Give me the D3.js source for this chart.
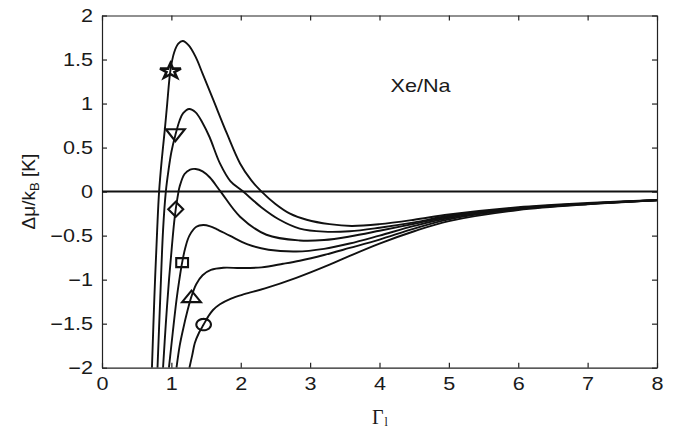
<!DOCTYPE html>
<html>
<head>
<meta charset="utf-8">
<script src="https://cdn.jsdelivr.net/npm/d3@7"></script>
<style>
    body { margin: 0; background: #fff; }
    .tick text { font-family: "Liberation Sans", Arial, sans-serif; font-size: 18px; fill: #1a1a1a; }
    .domain, .tick line { stroke: #222; stroke-width: 1.2; }
</style>
</head>
<body>
<div id="chart"></div>
<script>
// values (x = Gamma_l, y = delta mu / kB in K)
var xTicks = [0, 1, 2, 3, 4, 5, 6, 7, 8];
var yTicks = [-2, -1.5, -1, -0.5, 0, 0.5, 1, 1.5, 2];
var yTickLabels = ["\u22122", "\u22121.5", "\u22121", "\u22120.5", "0", "0.5", "1", "1.5", "2"];

var starX = [0.72, 0.755, 0.795, 0.823, 0.86, 0.905, 0.94, 0.987, 1.04, 1.1, 1.165, 1.25, 1.35, 1.45, 1.6, 1.8, 1.99, 2.15, 2.3, 2.5, 2.71, 2.95, 3.28, 3.6, 4, 4.5, 5, 6, 7, 8];
var starY = [-2, -1.2, -0.44, 0, 0.35, 0.7, 1.0, 1.38, 1.58, 1.68, 1.71, 1.66, 1.53, 1.34, 1.05, 0.66, 0.32, 0.13, 0, -0.14, -0.25, -0.32, -0.37, -0.39, -0.37, -0.32, -0.26, -0.178, -0.13, -0.095];

var triDownX = [0.8, 0.84, 0.88, 0.92, 0.96, 1.0, 1.057, 1.12, 1.17, 1.256, 1.35, 1.45, 1.55, 1.7, 1.85, 2.035, 2.3, 2.56, 2.85, 3.2, 3.57, 4, 4.5, 5, 6, 7, 8];
var triDownY = [-2, -1.2, -0.44, 0, 0.25, 0.45, 0.64, 0.81, 0.89, 0.938, 0.9, 0.78, 0.62, 0.32, 0.12, 0, -0.18, -0.32, -0.42, -0.455, -0.45, -0.41, -0.35, -0.275, -0.185, -0.135, -0.097];

var diamondX = [0.88, 0.92, 0.966, 1.01, 1.04, 1.063, 1.09, 1.12, 1.19, 1.27, 1.35, 1.45, 1.555, 1.71, 1.99, 2.37, 2.85, 3.2, 3.57, 4, 4.5, 5, 6, 7, 8];
var diamondY = [-2, -1.5, -1.0, -0.6, -0.35, -0.2, -0.06, 0.06, 0.2, 0.25, 0.257, 0.23, 0.16, 0, -0.285, -0.49, -0.555, -0.55, -0.51, -0.445, -0.365, -0.285, -0.19, -0.137, -0.097];

var squareX = [0.965, 1.02, 1.074, 1.115, 1.155, 1.2, 1.26, 1.36, 1.46, 1.56, 1.65, 1.84, 2.1, 2.4, 2.8, 3.2, 3.57, 4, 4.5, 5, 6, 7, 8];
var squareY = [-2, -1.6, -1.23, -1.0, -0.807, -0.64, -0.5, -0.4, -0.38, -0.395, -0.425, -0.5, -0.6, -0.66, -0.68, -0.65, -0.59, -0.5, -0.39, -0.3, -0.195, -0.139, -0.098];

var triUpX = [1.074, 1.12, 1.17, 1.23, 1.29, 1.36, 1.45, 1.57, 1.75, 2.0, 2.3, 2.61, 2.85, 3.2, 3.57, 4, 4.5, 5, 6, 7, 8];
var triUpY = [-2, -1.75, -1.56, -1.36, -1.19, -1.05, -0.95, -0.89, -0.865, -0.868, -0.86, -0.82, -0.785, -0.72, -0.64, -0.545, -0.42, -0.315, -0.2, -0.141, -0.099];

var circleX = [1.26, 1.3, 1.338, 1.4, 1.465, 1.53, 1.6, 1.7, 1.86, 2.05, 2.35, 2.8, 3.28, 3.57, 4, 4.5, 5, 6, 7, 8];
var circleY = [-2, -1.86, -1.72, -1.6, -1.51, -1.42, -1.345, -1.28, -1.215, -1.165, -1.1, -0.98, -0.83, -0.73, -0.59, -0.45, -0.335, -0.21, -0.145, -0.1];

// one marker per curve
var markerShape = ["star", "triDown", "diamond", "square", "triUp", "circle"];
var markerX = [0.987, 1.057, 1.063, 1.155, 1.29, 1.465];
var markerY = [1.38, 0.64, -0.2, -0.807, -1.19, -1.51];

var zeroX = [0, 8];
var zeroY = [0, 0];

var svgW = 681;
var svgH = 428;
var margin = { top: 15.5, right: 24, bottom: 60.3, left: 102 };
var chartW = svgW - margin.left - margin.right;
var chartH = svgH - margin.top - margin.bottom;

var svg = d3.select("#chart")
    .append("svg")
    .attr("width", svgW)
    .attr("height", svgH);

var chartG = svg.append("g")
    .attr("transform", `translate(${margin.left}, ${margin.top})`);

var xScale = d3.scaleLinear().domain([0, 8]).range([0, chartW]);
var yScale = d3.scaleLinear().domain([-2, 2]).range([chartH, 0]);

svg.append("defs").append("clipPath")
    .attr("id", "plotClip")
    .append("rect")
    .attr("width", chartW)
    .attr("height", chartH);

// box with inward ticks, matlab style
var bAxis = d3.axisBottom(xScale).tickValues(xTicks).tickSizeInner(-5).tickSizeOuter(0).tickPadding(10);
var tAxis = d3.axisTop(xScale).tickValues(xTicks).tickSizeInner(-5).tickSizeOuter(0).tickFormat("");
var lAxis = d3.axisLeft(yScale).tickValues(yTicks).tickSizeInner(-5).tickSizeOuter(0).tickPadding(9)
    .tickFormat(function(d, i) { return yTickLabels[i]; });
var rAxis = d3.axisRight(yScale).tickValues(yTicks).tickSizeInner(-5).tickSizeOuter(0).tickFormat("");

var xAxis = chartG.append("g").attr("transform", `translate(0, ${chartH})`).call(bAxis);
chartG.append("g").call(tAxis);
var yAxis = chartG.append("g").call(lAxis);
chartG.append("g").attr("transform", `translate(${chartW}, 0)`).call(rAxis);

// the picture is a bit wide, so stretch the labels sideways
xAxis.selectAll(".tick text")
    .attr("y", 0)
    .attr("dy", "0.71em")
    .attr("transform", "translate(0, 10) scale(1.2, 1)");
yAxis.selectAll(".tick text")
    .attr("x", 0)
    .attr("transform", "translate(-9, 0) scale(1.2, 1)");

var line = d3.line()
    .x(function(d) { return xScale(d[0]); })
    .y(function(d) { return yScale(d[1]); })
    .curve(d3.curveCatmullRom.alpha(0.5));

var curves = [
    d3.zip(starX, starY),
    d3.zip(triDownX, triDownY),
    d3.zip(diamondX, diamondY),
    d3.zip(squareX, squareY),
    d3.zip(triUpX, triUpY),
    d3.zip(circleX, circleY)
];

var plotG = chartG.append("g").attr("clip-path", "url(#plotClip)");

plotG.append("path")
    .datum(d3.zip(zeroX, zeroY))
    .attr("d", line)
    .attr("fill", "none")
    .attr("stroke", "#111")
    .attr("stroke-width", 2);

plotG.selectAll(".curve")
    .data(curves)
    .enter()
    .append("path")
    .attr("class", "curve")
    .attr("d", line)
    .attr("fill", "none")
    .attr("stroke", "#111")
    .attr("stroke-width", 1.9);

function polygon(pts) {
    var p = d3.path();
    pts.forEach(function(q, i) {
        if (i == 0) p.moveTo(q[0], q[1]);
        else p.lineTo(q[0], q[1]);
    });
    p.closePath();
    return p.toString();
}

function markerPath(shape) {
    if (shape == "star") {
        var pts = d3.range(10).map(function(i) {
            var a = -Math.PI / 2 + i * Math.PI / 5;
            var r = i % 2 == 0 ? 1 : 0.382;
            return [Math.cos(a) * r * 11, Math.sin(a) * r * 8 + 1];
        });
        return polygon(pts);
    } else if (shape == "triDown") {
        return polygon([[-9.5, -6], [9.5, -6], [0, 6]]);
    } else if (shape == "diamond") {
        return polygon([[0, -7.5], [7.5, 0], [0, 7.5], [-7.5, 0]]);
    } else if (shape == "square") {
        return polygon([[-5.9, -4.5], [5.9, -4.5], [5.9, 4.5], [-5.9, 4.5]]);
    } else if (shape == "triUp") {
        return polygon([[0, -5.7], [9.4, 5.7], [-9.4, 5.7]]);
    } else {
        var p = d3.path();
        p.moveTo(7.3, 0);
        d3.range(1, 41).forEach(function(i) {
            var a = i * Math.PI / 20;
            p.lineTo(Math.cos(a) * 7.3, Math.sin(a) * 5.7);
        });
        p.closePath();
        return p.toString();
    }
}

chartG.selectAll(".marker")
    .data(markerShape)
    .enter()
    .append("path")
    .attr("class", "marker")
    .attr("transform", function(d, i) { return `translate(${xScale(markerX[i])}, ${yScale(markerY[i])})`; })
    .attr("d", function(d) { return markerPath(d); })
    .attr("fill", "none")
    .attr("stroke", "#111")
    .attr("stroke-width", function(d) { return d == "star" ? 2.6 : 2.1; });

// labels
chartG.append("text")
    .attr("transform", `translate(${xScale(4.16)}, ${yScale(1.13)}) scale(1.2, 1)`)
    .attr("font-family", "Liberation Sans, Arial, sans-serif")
    .attr("font-size", 18)
    .attr("fill", "#1a1a1a")
    .text("Xe/Na");

var xLab = svg.append("text")
    .attr("x", 372)
    .attr("y", 424)
    .attr("font-family", "Liberation Serif, Times New Roman, serif")
    .attr("font-size", 20)
    .attr("fill", "#1a1a1a");
xLab.append("tspan").text("\u0393");
xLab.append("tspan").attr("font-size", 12).attr("dy", 1.5).attr("dx", 1).text("l");

var yLab = svg.append("text")
    .attr("transform", `translate(35, ${margin.top + yScale(0)}) rotate(-90)`)
    .attr("text-anchor", "middle")
    .attr("font-family", "Liberation Sans, Arial, sans-serif")
    .attr("font-size", 19)
    .attr("fill", "#1a1a1a");
yLab.append("tspan").text("\u0394\u03bc/k");
yLab.append("tspan").attr("font-size", 13).attr("dy", 4).text("B");
yLab.append("tspan").attr("dy", -4).text(" [K]");
</script>
</body>
</html>
